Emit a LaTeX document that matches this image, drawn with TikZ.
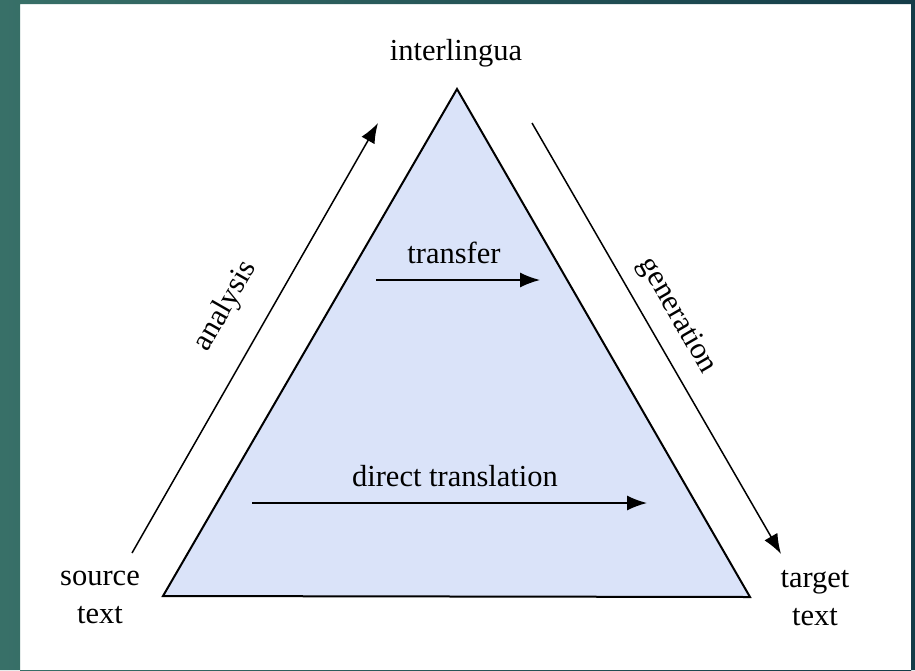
\documentclass[tikz,border=0pt]{standalone}
\usepackage{fontspec}
\setmainfont{Liberation Serif}
\usetikzlibrary{arrows.meta}
\definecolor{frameL}{RGB}{56,112,104}
\definecolor{frameR}{RGB}{20,60,72}
\definecolor{triFill}{RGB}{218,227,249}
\begin{document}
\begin{tikzpicture}[x=1pt,y=-1pt,
  lbl/.style={font=\fontsize{30.5}{38}\selectfont, inner sep=0pt, anchor=base, align=center},
  arr/.style={line width=1.5pt, -{Latex[length=20pt,width=15pt]}},
  tri/.style={draw=black, line width=2pt, fill=triFill, line join=miter}]
  \useasboundingbox (0,0) rectangle (915,670);
  % white panel inside a shaded slide frame
  \fill[white] (0,0) rectangle (915,670);
  \shade[even odd rule, left color=frameL, right color=frameR]
    (0,0) rectangle (915,670) (20,4) rectangle (911,690);

  % corners of the triangle
  \coordinate (top) at (457,89);
  \coordinate (bl) at (163,596);
  \coordinate (br) at (750,597);
  \draw[tri] (top) -- (bl) -- (br) -- cycle;

  % corner labels (base anchor sits on the last line)
  \node[lbl] (inter) at (456,60) {interlingua};
  \node[lbl] (src) at (100,623) {source\\text};
  \node[lbl] (tgt) at (815,625) {target\\text};

  % side arrows
  \coordinate (aS) at (132,553);
  \coordinate (aE) at (378,123);
  \coordinate (gS) at (532,123);
  \coordinate (gE) at (781,554);
  \draw[arr] (aS) -- (aE);
  \draw[arr] (gS) -- (gE);
  \node[lbl, anchor=center, rotate=60.2] (ana) at (226,306) {analysis};
  \node[lbl, anchor=center, rotate=-60] (gen) at (677,316) {generation};

  % inner arrows
  \coordinate (tS) at (376,280);
  \coordinate (tE) at (540,280);
  \draw[arr] (tS) -- (tE);
  \node[lbl] (trf) at (454,263) {transfer};

  \coordinate (dS) at (252,503);
  \coordinate (dE) at (647,503);
  \draw[arr] (dS) -- (dE);
  \node[lbl] (dir) at (455,486) {direct translation};
\end{tikzpicture}
\end{document}
